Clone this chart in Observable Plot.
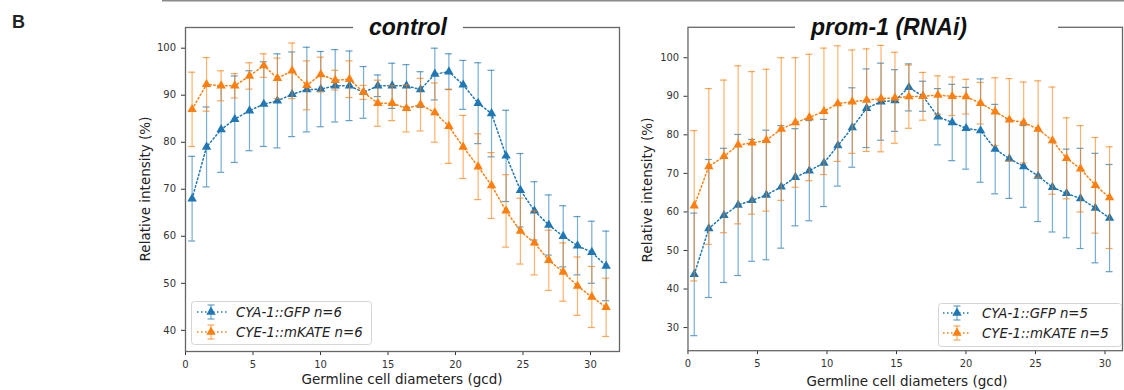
<!DOCTYPE html>
<html>
<head>
<meta charset="utf-8">
<script src="https://cdn.jsdelivr.net/npm/d3@7"></script>
<script src="https://cdn.jsdelivr.net/npm/@observablehq/plot@0.6"></script>
<style>
  html, body { margin: 0; padding: 0; background: #fff; overflow: hidden; }
  #fig { position: relative; width: 1124px; height: 390px; overflow: hidden; background: #fff; }
  #fig > .panel { position: absolute; top: 0; }
  #overlay { position: absolute; left: 0; top: 0; pointer-events: none; }
</style>
</head>
<body>
<div id="fig">
  <div class="panel" id="left" style="left:0px"></div>
  <div class="panel" id="right" style="left:622px"></div>
</div>
<script>
// ---------- data ----------
const xTicks = [0, 5, 10, 15, 20, 25, 30];
const yTicksControl = [40, 50, 60, 70, 80, 90, 100];
const yTicksRnai = [30, 40, 50, 60, 70, 80, 90, 100];

const seriesNames = ["CYA-1::GFP", "CYE-1::mKATE"];
const nControl = 6;
const nRnai = 5;
const panelTitles = ["control", "prom-1 (RNAi)"];
const xLabel = "Germline cell diameters (gcd)";
const yLabel = "Relative intensity (%)";

// control panel (gcd positions)
const xControl = [0.49, 1.56, 2.64, 3.65, 4.74, 5.80, 6.81, 7.90, 8.99, 10.02, 11.09, 12.15, 13.19, 14.25, 15.31,
                  16.37, 17.41, 18.47, 19.51, 20.57, 21.68, 22.67, 23.75, 24.81, 25.85, 26.91, 27.98, 29.04, 30.10, 31.16];
const gfpControl = [68, 79, 82.7, 84.9, 86.7, 88.1, 88.8, 90.2, 91.2, 91.3, 92, 92, 90.6, 92, 92, 92, 91.2, 94.5, 95, 92.2,
                    88.3, 86.1, 77.1, 69.8, 65.4, 62.4, 60, 58, 56.6, 53.7];
const gfpControlErr = [9, 8.5, 9.1, 9.2, 8.5, 9, 10, 9, 9, 8, 7.7, 7.4, 5.5, 2.3, 4.8, 4.5, 3.8, 5.5, 3.8, 5.2,
                       8.6, 9.2, 9.7, 7.8, 6.2, 6.4, 6.5, 6.2, 6.6, 7.4];
const mkateControl = [87, 92.3, 92, 92, 94.1, 96.3, 93.6, 95.2, 92.1, 94.4, 93.2, 93.4, 90.6, 88.3, 88.3, 87.2, 88, 86.3, 83.4, 79,
                      74.8, 70.8, 65.4, 61.1, 58.6, 54.9, 52.4, 49.4, 47.1, 44.9];
const mkateControlErr = [7.9, 5.7, 3.2, 2.6, 2.8, 2.5, 4.3, 5.9, 5.2, 3.7, 2.1, 3.9, 1.5, 4.9, 3.7, 5, 5.6, 6.3, 7.9, 6.7,
                         7, 7, 7.7, 7, 6.8, 6.4, 6.2, 6.2, 6.5, 6.2];

// prom-1 (RNAi) panel
const xRnai = [0.45, 1.50, 2.59, 3.61, 4.61, 5.64, 6.71, 7.73, 8.73, 9.78, 10.78, 11.82, 12.85, 13.89, 14.89,
               15.89, 16.91, 17.98, 19.01, 20.01, 21.05, 22.10, 23.12, 24.15, 25.19, 26.22, 27.24, 28.24, 29.31, 30.33];
const gfpRnai = [43.8, 55.7, 59.1, 61.8, 63, 64.4, 66.5, 69, 70.7, 72.7, 77.2, 81.9, 86.9, 88.6, 88.9, 92.3, 90, 84.7, 83.2, 81.7,
                 81.1, 76.3, 73.8, 71.8, 69.3, 66.4, 64.8, 63.5, 61, 58.4];
const gfpRnaiErr = [15.9, 17.9, 17.4, 18.3, 15.8, 16.8, 15.9, 12.6, 13, 11.3, 10.5, 10.3, 10.2, 10, 8, 6.1, 3.9, 7.3, 9.9, 10.6,
                    13.4, 11.6, 10.3, 10.6, 11.8, 11.6, 11.5, 13, 14.2, 13.9];
const mkateRnai = [61.6, 71.8, 74.4, 77.4, 77.9, 78.6, 81.5, 83.2, 84.5, 86.1, 88.1, 88.6, 89, 89.4, 89.6, 89.9, 90, 90.3, 90, 89.9,
                   88.2, 86, 83.9, 83.2, 81.5, 78.5, 73.9, 71.2, 66.9, 63.7];
const mkateRnaiErr = [19.5, 20.2, 19.8, 20.5, 18.5, 18.4, 18.5, 16.8, 16.4, 16.4, 15, 13.4, 13.3, 13.8, 11.8, 8.2, 6.2, 5, 5, 4.5,
                      5.4, 8.8, 10.7, 10.5, 12.5, 13.9, 10.5, 11.2, 12.4, 13.2];

const colors = ["#1f77b4", "#ff7f0e"];

// ---------- helpers ----------
const rows = (xs, ys, es) => xs.map((x, i) => ({x, y: ys[i], e: es[i]}));

function seriesMarks(data, color, capHalf) {
  return [
    Plot.ruleX(data, {x: "x", y1: d => d.y - d.e, y2: d => d.y + d.e, stroke: color, strokeOpacity: 0.6, strokeWidth: 1.2}),
    Plot.ruleY(data, {y: d => d.y + d.e, x1: d => d.x - capHalf, x2: d => d.x + capHalf, stroke: color, strokeOpacity: 0.7, strokeWidth: 1.2}),
    Plot.ruleY(data, {y: d => d.y - d.e, x1: d => d.x - capHalf, x2: d => d.x + capHalf, stroke: color, strokeOpacity: 0.7, strokeWidth: 1.2}),
    Plot.line(data, {x: "x", y: "y", stroke: color, strokeWidth: 1.5, strokeDasharray: "1.5,2.5"}),
    Plot.dot(data, {x: "x", y: "y", symbol: "triangle", r: 3.5, fill: color, stroke: "none"})
  ];
}

const baseStyle = {fontFamily: "'DejaVu Sans', sans-serif", fontSize: "10px", color: "#333", background: "transparent", overflow: "visible"};

// ---------- left panel ----------
const left = Plot.plot({
  width: 622, height: 390,
  marginLeft: 185, marginRight: 3, marginTop: 27, marginBottom: 39,
  style: baseStyle,
  x: {domain: [0, 32.15], ticks: xTicks, tickSize: 4, tickPadding: 5, label: null},
  y: {domain: [35.5, 104.4], ticks: yTicksControl, tickSize: 4, tickPadding: 5.5, label: null},
  marks: [
    Plot.frame({stroke: "#666", strokeWidth: 1.3}),
    ...seriesMarks(rows(xControl, gfpControl, gfpControlErr), colors[0], 0.26),
    ...seriesMarks(rows(xControl, mkateControl, mkateControlErr), colors[1], 0.26)
  ]
});
document.getElementById("left").appendChild(left);

// ---------- right panel ----------
const right = Plot.plot({
  width: 506, height: 390,
  marginLeft: 66, marginRight: 2, marginTop: 27, marginBottom: 37,
  style: baseStyle,
  x: {domain: [0, 31.26], ticks: xTicks, tickSize: 4, tickPadding: 5, label: null},
  y: {domain: [24, 107.9], ticks: yTicksRnai, tickSize: 4, tickPadding: 5, label: null},
  marks: [
    Plot.frame({stroke: "#666", strokeWidth: 1.3}),
    ...seriesMarks(rows(xRnai, gfpRnai, gfpRnaiErr), colors[0], 0.25),
    ...seriesMarks(rows(xRnai, mkateRnai, mkateRnaiErr), colors[1], 0.25)
  ]
});
document.getElementById("right").appendChild(right);

// ---------- overlay: titles, labels, legends ----------
const NS = "http://www.w3.org/2000/svg";
const ov = document.createElementNS(NS, "svg");
ov.setAttribute("id", "overlay");
ov.setAttribute("width", 1124);
ov.setAttribute("height", 390);
document.getElementById("fig").appendChild(ov);

function el(tag, attrs, text) {
  const e = document.createElementNS(NS, tag);
  for (const k in attrs) e.setAttribute(k, attrs[k]);
  if (text != null) e.textContent = text;
  ov.appendChild(e);
  return e;
}

// top figure rule
el("line", {x1: 162, x2: 1124, y1: 0.75, y2: 0.75, stroke: "#8a8a8a", "stroke-width": 1.5});
// panel letter
el("text", {x: 12, y: 28, "font-family": "'Liberation Sans', Arial, sans-serif", "font-weight": "bold", "font-size": 18, fill: "#222"}, "B");

// titles with white boxes interrupting the frame top
el("rect", {x: 353, y: 18, width: 110, height: 16, fill: "#fff"});
el("text", {x: 408, y: 35, "text-anchor": "middle", "font-family": "'Liberation Sans', Arial, sans-serif", "font-weight": "bold", "font-style": "italic", "font-size": 23, fill: "#111"}, panelTitles[0]);
el("rect", {x: 795, y: 18, width: 263, height: 16, fill: "#fff"});
el("text", {x: 889, y: 35, "text-anchor": "middle", "font-family": "'Liberation Sans', Arial, sans-serif", "font-weight": "bold", "font-style": "italic", "font-size": 23, fill: "#111"}, panelTitles[1]);

// axis labels
const labelFont = {"font-family": "'DejaVu Sans', sans-serif", "font-size": 13.5, fill: "#222"};
el("text", {...labelFont, x: 402, y: 384, "text-anchor": "middle"}, xLabel);
el("text", {...labelFont, x: 907, y: 386, "text-anchor": "middle"}, xLabel);
el("text", {...labelFont, "text-anchor": "middle", transform: "translate(150,189) rotate(-90)"}, yLabel);
el("text", {...labelFont, "text-anchor": "middle", transform: "translate(652,190) rotate(-90)"}, yLabel);

// legends
function legend(bx, by, bw, bh, n, mx, lx0, lx1, tx, ys) {
  el("rect", {x: bx + 0.5, y: by + 0.5, width: bw, height: bh, rx: 3, fill: "#fff", "fill-opacity": 0.85, stroke: "#d4d4d4", "stroke-width": 1});
  seriesNames.forEach((name, i) => {
    const y = by + ys[i];
    const c = colors[i];
    el("line", {x1: lx0, x2: lx1, y1: y, y2: y, stroke: c, "stroke-width": 1.5, "stroke-dasharray": "1.5,2.5"});
    el("line", {x1: mx, x2: mx, y1: y - 7, y2: y + 7, stroke: c, "stroke-opacity": 0.6, "stroke-width": 1.2});
    el("line", {x1: mx - 3.5, x2: mx + 3.5, y1: y - 7, y2: y - 7, stroke: c, "stroke-opacity": 0.7, "stroke-width": 1.2});
    el("line", {x1: mx - 3.5, x2: mx + 3.5, y1: y + 7, y2: y + 7, stroke: c, "stroke-opacity": 0.7, "stroke-width": 1.2});
    el("path", {d: d3.symbol(d3.symbolTriangle, Math.PI * 3.5 * 3.5)(), transform: `translate(${mx},${y})`, fill: c});
    el("text", {x: tx, y: y + 4.8, "font-family": "'DejaVu Sans', sans-serif", "font-style": "italic", "font-size": 13.3, fill: "#222"}, `${name} n=${n}`);
  });
}
legend(191, 301, 180, 43, nControl, 211, 197, 227, 236, [11, 31]);
legend(938, 303, 183, 43, nRnai, 957, 943, 971, 982, [10, 30]);
</script>
</body>
</html>
